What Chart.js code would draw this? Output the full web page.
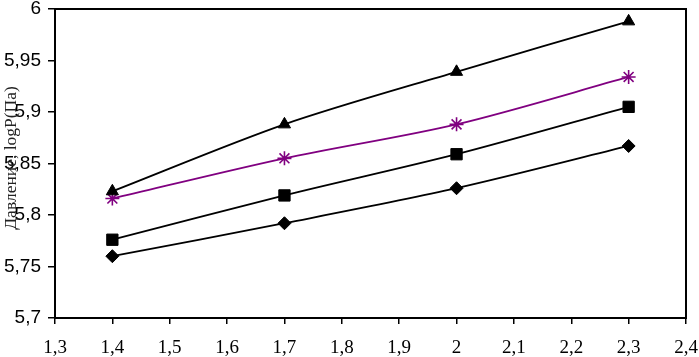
<!DOCTYPE html>
<html>
<head>
<meta charset="utf-8">
<script src="https://cdn.jsdelivr.net/npm/chart.js@4.4.0/dist/chart.umd.min.js"></script>
<style>
  html, body { margin:0; padding:0; background:#fff; }
  #wrap { width:699px; height:357px; position:relative; }
</style>
</head>
<body>
<div id="wrap"><canvas id="chart"></canvas></div>
<script>
// ── Data ──────────────────────────────────────────────────────
const X_VALUES  = [1.4, 1.7, 2.0, 2.3];
const TRIANGLES = [5.823, 5.888, 5.939, 5.988];
const STARS     = [5.816, 5.855, 5.888, 5.934];
const SQUARES   = [5.776, 5.819, 5.859, 5.905];
const DIAMONDS  = [5.760, 5.792, 5.826, 5.867];
const Y_TITLE   = 'Давление, logP(Па)';

const pts = ys => X_VALUES.map((x,i)=>({x, y:ys[i]}));
const comma = v => String(+v.toFixed(2)).replace('.', ',');

function series(ys, color, style, r) {
  return {
    data: pts(ys), borderColor: color, backgroundColor: color,
    borderWidth: 1.8, pointStyle: style, pointRadius: r, pointHoverRadius: r,
    pointBorderWidth: style==='star' ? 1.6 : 1, tension: 0.3, fill:false
  };
}

// frame round the plot + y title drawn over tick labels
const framePlugin = {
  id:'frame',
  afterDraw(chart) {
    const {ctx, chartArea:a} = chart;
    ctx.save();
    ctx.strokeStyle = '#000'; ctx.lineWidth = 2;
    ctx.strokeRect(a.left, a.top, a.right - a.left, a.bottom - a.top);
    ctx.translate(11, 158);
    ctx.rotate(-Math.PI/2);
    ctx.fillStyle = '#222';
    ctx.font = '17.5px "Liberation Serif", "Times New Roman", serif';
    ctx.textAlign = 'center'; ctx.textBaseline = 'middle';
    ctx.fillText(Y_TITLE, 0, 0);
    ctx.restore();
  }
};

new Chart(document.getElementById('chart'), {
  type:'line',
  data:{
    datasets:[
      series(TRIANGLES, '#000', 'triangle', 7),
      series(STARS,     '#800080', 'star', 7),
      series(SQUARES,   '#000', 'rect', 8),
      series(DIAMONDS,  '#000', 'rectRot', 6.5),
    ]
  },
  options:{
    responsive:true, maintainAspectRatio:false, animation:false,
    layout:{ padding:{ top:7, right:13, left:0, bottom:0 } },
    plugins:{ legend:{display:false}, tooltip:{enabled:false} },
    scales:{
      x:{
        type:'linear', min:1.3, max:2.4,
        grid:{ drawOnChartArea:false, drawTicks:true, tickLength:6, color:'#000', lineWidth:1.5 },
        border:{ display:true, color:'#000', width:2 },
        ticks:{ stepSize:0.1, color:'#000', padding:13, maxRotation:0, autoSkip:false,
                font:{ family:'"Liberation Serif", "Times New Roman", serif', size:19 },
                callback: v => comma(v) },
        afterFit(s){ s.height = 39; s.paddingLeft = 0; s.paddingRight = 0; }
      },
      y:{
        min:5.7, max:6,
        grid:{ drawOnChartArea:false, drawTicks:true, tickLength:7, color:'#000', lineWidth:1.5 },
        border:{ display:true, color:'#000', width:2 },
        ticks:{ stepSize:0.05, color:'#000', padding:7,
                font:{ family:'"Liberation Sans", Arial, sans-serif', size:19 },
                callback: v => comma(v) },
        afterFit(s){ s.width = 55; s.paddingTop = 0; s.paddingBottom = 0; }
      }
    }
  },
  plugins:[framePlugin]
});
</script>
</body>
</html>
